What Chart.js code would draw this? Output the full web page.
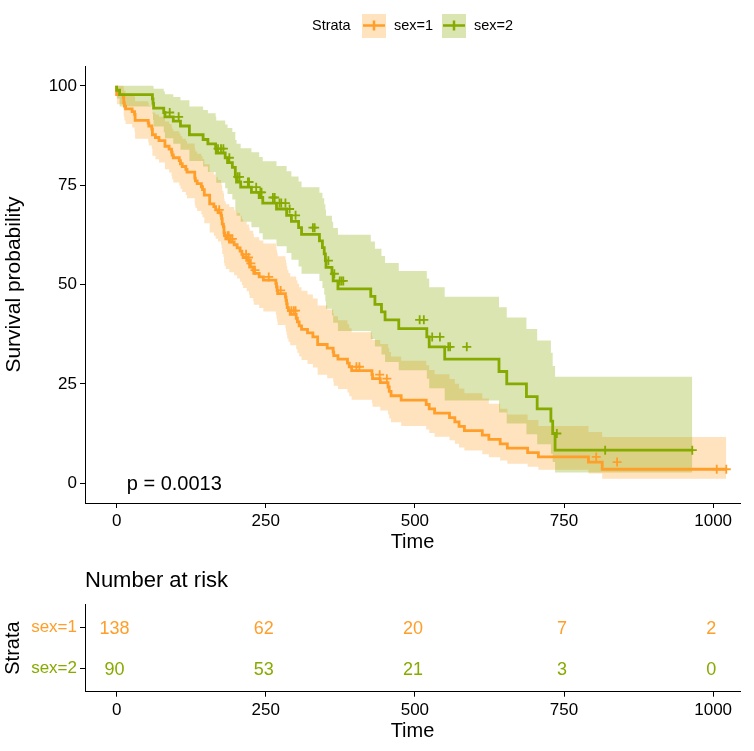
<!DOCTYPE html>
<html>
<head>
<meta charset="utf-8">
<script src="https://cdn.jsdelivr.net/npm/chart.js@4.4.0/dist/chart.umd.min.js"></script>
<style>
  body { margin: 0; background: #fff; }
  .box { position: absolute; left: 0; width: 754px; }
</style>
</head>
<body>
<div class="box" style="top:0;height:560px"><canvas id="km"></canvas></div>
<div class="box" style="top:560px;height:191px"><canvas id="risk"></canvas></div>
<script>
const xTicks = [0, 250, 500, 750, 1000];
const yTicks = [0, 25, 50, 75, 100];
const strata = ['sex=1', 'sex=2'];
const colors = ['#FF9E29', '#86AA00'];
const bandColors = ['rgba(255,158,41,0.3)', 'rgba(134,170,0,0.3)'];
const pValue = 'p = 0.0013';

// sex=1 : step times, survival %, 95% CI
const time1 = [0, 11, 12, 13, 15, 26, 30, 31, 53, 54, 59, 60, 65, 71, 81, 88, 92, 93, 95, 105,
  107, 110, 116, 118, 131, 132, 135, 142, 144, 147, 156, 163, 166, 170, 175, 176, 177, 179, 180, 181,
  183, 189, 197, 202, 207, 210, 212, 218, 222, 223, 229, 230, 239, 246, 267, 268, 269, 270, 283, 284,
  285, 286, 288, 291, 301, 303, 306, 310, 320, 329, 337, 353, 363, 364, 371, 387, 390, 394, 428, 429,
  442, 455, 457, 460, 477, 519, 524, 533, 558, 567, 574, 583, 613, 624, 643, 655, 689, 707, 791, 814,
  883, 1022];
const surv1 = [100, 97.8, 97.1, 95.7, 94.9, 94.2, 93.5, 92.8, 91.3, 90.6, 89.9, 89.1, 87.7, 87.0, 86.2, 84.8, 84.1, 83.3, 82.6, 81.9,
  81.2, 80.4, 79.7, 79.0, 78.3, 76.8, 76.1, 75.4, 74.6, 73.9, 72.5, 70.3, 69.6, 68.8, 68.1, 67.4, 66.6, 65.2, 64.5, 63.0,
  62.3, 61.5, 60.7, 60.0, 59.2, 58.4, 57.6, 56.8, 56.1, 55.3, 54.4, 53.6, 52.8, 51.9, 51.1, 50.2, 49.4, 48.5, 47.7, 46.8,
  46.0, 45.1, 44.2, 43.4, 42.5, 41.5, 40.6, 39.6, 38.7, 37.8, 36.8, 34.9, 34.0, 33.0, 32.1, 31.2, 30.2, 29.3, 28.3, 27.3,
  26.3, 25.3, 24.2, 23.1, 22.0, 20.9, 19.8, 18.7, 17.6, 16.5, 15.4, 14.3, 13.2, 12.1, 11.0, 9.9, 8.8, 7.7, 6.6, 5.3,
  3.5, 3.5];
const lower1 = [100, 95.4, 94.3, 92.3, 91.3, 90.4, 89.5, 88.5, 86.7, 85.8, 85.0, 84.1, 82.4, 81.5, 80.7, 79.0, 78.2, 77.3, 76.5, 75.7,
  74.9, 74.1, 73.3, 72.5, 71.7, 70.1, 69.3, 68.5, 67.7, 66.9, 65.4, 63.1, 62.3, 61.5, 60.8, 60.0, 59.2, 57.7, 56.9, 55.4,
  54.7, 53.9, 53.1, 52.3, 51.5, 50.7, 49.9, 49.1, 48.3, 47.5, 46.6, 45.8, 44.9, 44.1, 43.2, 42.4, 41.5, 40.7, 39.8, 39.0,
  38.1, 37.3, 36.4, 35.6, 34.7, 33.7, 32.8, 31.9, 31.0, 30.0, 29.1, 27.3, 26.4, 25.5, 24.5, 23.7, 22.8, 21.9, 21.0, 20.1,
  19.2, 18.3, 17.3, 16.3, 15.3, 14.4, 13.5, 12.6, 11.7, 10.8, 9.9, 9.0, 8.2, 7.3, 6.5, 5.7, 4.9, 4.1, 3.4, 2.4,
  1.1, 1.1];
const upper1 = [100, 100, 99.9, 99.1, 98.7, 98.2, 97.7, 97.2, 96.1, 95.6, 95.0, 94.5, 93.3, 92.8, 92.2, 91.0, 90.4, 89.8, 89.2, 88.6,
  88.0, 87.3, 86.7, 86.1, 85.5, 84.2, 83.5, 82.9, 82.3, 81.6, 80.3, 78.3, 77.7, 77.0, 76.3, 75.7, 75.0, 73.6, 73.0, 71.6,
  70.9, 70.2, 69.5, 68.7, 68.0, 67.3, 66.5, 65.8, 65.1, 64.3, 63.5, 62.7, 61.9, 61.1, 60.3, 59.5, 58.7, 57.9, 57.1, 56.2,
  55.4, 54.6, 53.7, 52.9, 52.0, 51.1, 50.2, 49.3, 48.4, 47.5, 46.5, 44.7, 43.7, 42.8, 42.0, 41.0, 40.0, 39.0, 38.0, 37.0,
  36.0, 35.0, 34.0, 33.0, 31.9, 30.8, 29.7, 28.5, 27.4, 26.2, 25.0, 23.8, 22.6, 21.3, 20.0, 18.7, 17.3, 15.9, 14.4, 12.9,
  11.6, 11.6];
const censor1 = [172, 186, 188, 191, 194, 217, 221, 225, 232, 255, 275, 293, 297, 300, 402, 407, 441, 453, 804, 839, 1006, 1022];

// sex=2
const time2 = [0, 5, 60, 61, 62, 79, 81, 95, 107, 122, 145, 153, 166, 167, 182, 186, 194, 199, 201, 208,
  226, 239, 245, 268, 285, 293, 305, 310, 340, 345, 348, 350, 351, 361, 363, 371, 426, 433, 444, 450,
  473, 520, 524, 550, 641, 654, 687, 705, 728, 731, 735, 765, 965];
const surv2 = [100, 98.9, 97.8, 96.7, 95.6, 94.4, 93.3, 92.2, 91.1, 89.9, 87.7, 86.5, 85.4, 84.2, 83.1, 81.9, 80.7, 79.5, 77.1, 75.8,
  74.5, 73.2, 71.9, 70.5, 69.0, 67.4, 65.9, 64.3, 62.6, 61.0, 59.3, 57.7, 56.0, 54.3, 52.7, 50.9, 48.9, 47.0, 45.0, 43.1,
  41.1, 38.9, 36.8, 34.3, 31.2, 28.1, 25.0, 21.8, 18.7, 15.6, 12.5, 8.3, 8.3];
const lower2 = [100, 96.8, 94.8, 93.0, 91.4, 89.8, 88.3, 86.8, 85.4, 83.9, 81.1, 79.7, 78.3, 77.0, 75.6, 74.2, 72.8, 71.4, 68.7, 67.3,
  65.8, 64.4, 62.9, 61.3, 59.6, 57.9, 56.2, 54.5, 52.7, 50.9, 49.1, 47.4, 45.7, 43.9, 42.2, 40.4, 38.3, 36.3, 34.4, 32.4,
  30.5, 28.4, 26.3, 23.9, 20.8, 17.8, 15.0, 12.3, 9.8, 7.4, 5.3, 2.7, 2.7];
const upper2 = [100, 100, 100, 100, 99.9, 99.3, 98.6, 97.9, 97.2, 96.4, 94.8, 93.9, 93.1, 92.2, 91.3, 90.3, 89.4, 88.4, 86.4, 85.4,
  84.3, 83.3, 82.1, 81.0, 79.8, 78.5, 77.2, 75.9, 74.5, 73.1, 71.7, 70.2, 68.8, 67.3, 65.8, 64.2, 62.5, 60.8, 59.0, 57.2,
  55.4, 53.4, 51.5, 49.3, 46.9, 44.3, 41.7, 38.8, 35.9, 32.8, 29.5, 26.8, 26.8];
const censor2 = [89, 104, 170, 175, 179, 189, 203, 206, 220, 222, 234, 241, 243, 262, 265, 273, 276, 283, 290, 300,
  329, 332, 355, 365, 374, 377, 380, 508, 515, 529, 542, 556, 559, 587, 738, 819, 965];

// number at risk table
const riskTimes = [0, 250, 500, 750, 1000];
const risk1 = [138, 62, 20, 7, 2];
const risk2 = [90, 53, 21, 3, 0];

const FONT = "'Liberation Sans', Arial, Helvetica, sans-serif";
Chart.defaults.font.family = FONT;
Chart.defaults.color = '#000';

const pts = (t, v) => t.map((x, i) => ({ x, y: v[i] }));
const survAt = (t, s, x) => {
  let v = s[0];
  t.forEach((ti, i) => { if (ti <= x) v = s[i]; });
  return v;
};

const stepLine = (label, data, color) => ({
  label, data, stepped: 'after', borderColor: color, borderWidth: 2.8,
  pointRadius: 0, fill: false
});
const band = (data, color, fill) => ({
  data, stepped: 'after', borderWidth: 0, pointRadius: 0,
  backgroundColor: color, fill
});
const censors = (t, s, c, color) => ({
  data: c.map(x => ({ x, y: survAt(t, s, x) })),
  showLine: false, pointStyle: 'cross', pointRadius: 4.5,
  pointBorderWidth: 1.8, borderColor: color, pointBorderColor: color
});

const axisX = (height, titlePad) => ({
  type: 'linear', min: -53, max: 1045,
  afterBuildTicks: s => { s.ticks = xTicks.map(value => ({ value })); },
  afterFit: s => { s.height = height; },
  grid: { drawOnChartArea: false, tickLength: 5, color: '#000', lineWidth: 1 },
  border: { display: true, color: '#000', width: 1 },
  ticks: { color: '#000', font: { size: 17 }, padding: 3, maxRotation: 0, autoSkip: false, callback: v => String(v) },
  title: { display: true, text: 'Time', color: '#000', font: { size: 20, lineHeight: 1.2 }, padding: { bottom: titlePad } }
});

const legendKey = {
  id: 'legendKey',
  afterDraw(chart) {
    const ctx = chart.ctx;
    ctx.save();
    ctx.font = '14.5px ' + FONT;
    ctx.textBaseline = 'middle';
    ctx.fillStyle = '#000';
    ctx.fillText('Strata', 312, 26);
    const spots = [[362, 394], [442, 474]];
    strata.forEach((name, i) => {
      const [bx, tx] = spots[i];
      ctx.fillStyle = bandColors[i];
      ctx.fillRect(bx, 14, 24, 24);
      ctx.strokeStyle = colors[i];
      ctx.lineWidth = 2.5;
      ctx.beginPath();
      ctx.moveTo(bx + 1, 25.5); ctx.lineTo(bx + 23, 25.5);
      ctx.moveTo(bx + 12, 20.5); ctx.lineTo(bx + 12, 30.5);
      ctx.stroke();
      ctx.fillStyle = '#000';
      ctx.fillText(name, tx, 26);
    });
    ctx.restore();
  }
};

const pLabel = {
  id: 'pLabel',
  afterDatasetsDraw(chart) {
    const { ctx, scales } = chart;
    ctx.save();
    ctx.font = '20px ' + FONT;
    ctx.fillStyle = '#000';
    ctx.textBaseline = 'middle';
    ctx.fillText(pValue, scales.x.getPixelForValue(17), scales.y.getPixelForValue(-0.4));
    ctx.restore();
  }
};

new Chart(document.getElementById('km'), {
  type: 'line',
  data: {
    datasets: [
      censors(time2, surv2, censor2, colors[1]),
      censors(time1, surv1, censor1, colors[0]),
      stepLine('sex=2', pts(time2, surv2), colors[1]),
      stepLine('sex=1', pts(time1, surv1), colors[0]),
      band(pts(time2, upper2), bandColors[1], '+1'),
      band(pts(time2, lower2), bandColors[1], false),
      band(pts(time1, upper1), bandColors[0], '+1'),
      band(pts(time1, lower1), bandColors[0], false)
    ]
  },
  options: {
    responsive: true, maintainAspectRatio: false, animation: false,
    layout: { padding: { top: 66, right: 14, left: 0, bottom: 0 } },
    plugins: { legend: { display: false }, tooltip: { enabled: false } },
    scales: {
      x: axisX(57, 6),
      y: {
        min: -5, max: 105,
        afterBuildTicks: s => { s.ticks = yTicks.map(value => ({ value })); },
        afterFit: s => { s.width = 85; },
        grid: { drawOnChartArea: false, tickLength: 5, color: '#000', lineWidth: 1 },
        border: { display: true, color: '#000', width: 1 },
        ticks: { color: '#000', font: { size: 17 }, padding: 3 },
        title: { display: true, text: 'Survival probability', color: '#000', font: { size: 21, lineHeight: 1.2 }, padding: { top: 2 } }
      }
    }
  },
  plugins: [legendKey, pLabel]
});

const riskText = {
  id: 'riskText',
  afterDatasetsDraw(chart) {
    const ctx = chart.ctx;
    ctx.save();
    ctx.font = '18px ' + FONT;
    ctx.textAlign = 'center';
    ctx.textBaseline = 'middle';
    chart.data.datasets.forEach((ds, i) => {
      ctx.fillStyle = ds.borderColor;
      chart.getDatasetMeta(i).data.forEach((el, j) => {
        ctx.fillText(String(ds.data[j].n), el.x - 2, el.y + 1.5);
      });
    });
    ctx.restore();
  }
};

new Chart(document.getElementById('risk'), {
  type: 'scatter',
  data: {
    datasets: [
      { label: strata[0], data: riskTimes.map((x, i) => ({ x, y: 2, n: risk1[i] })), borderColor: colors[0], pointRadius: 0 },
      { label: strata[1], data: riskTimes.map((x, i) => ({ x, y: 1, n: risk2[i] })), borderColor: colors[1], pointRadius: 0 }
    ]
  },
  options: {
    responsive: true, maintainAspectRatio: false, animation: false,
    layout: { padding: { top: 0, right: 14, left: 0, bottom: 0 } },
    plugins: {
      legend: { display: false }, tooltip: { enabled: false },
      title: {
        display: true, text: 'Number at risk', align: 'start', fullSize: false, color: '#000',
        font: { size: 22, weight: 'normal', lineHeight: 1.2 }, padding: { top: 8, bottom: 10 }
      }
    },
    scales: {
      x: axisX(59.3, 7.5),
      y: {
        min: 0.44, max: 2.56,
        afterBuildTicks: s => { s.ticks = [{ value: 1 }, { value: 2 }]; },
        afterFit: s => { s.width = 85; },
        grid: { drawOnChartArea: false, tickLength: 5, color: '#000', lineWidth: 1 },
        border: { display: true, color: '#000', width: 1 },
        ticks: {
          font: { size: 17 }, padding: 3,
          color: c => c.tick.value === 2 ? colors[0] : colors[1],
          callback: v => v === 2 ? strata[0] : strata[1]
        },
        title: { display: true, text: 'Strata', color: '#000', font: { size: 20, lineHeight: 1.2 }, padding: { top: 1.5 } }
      }
    }
  },
  plugins: [riskText]
});
</script>
</body>
</html>
